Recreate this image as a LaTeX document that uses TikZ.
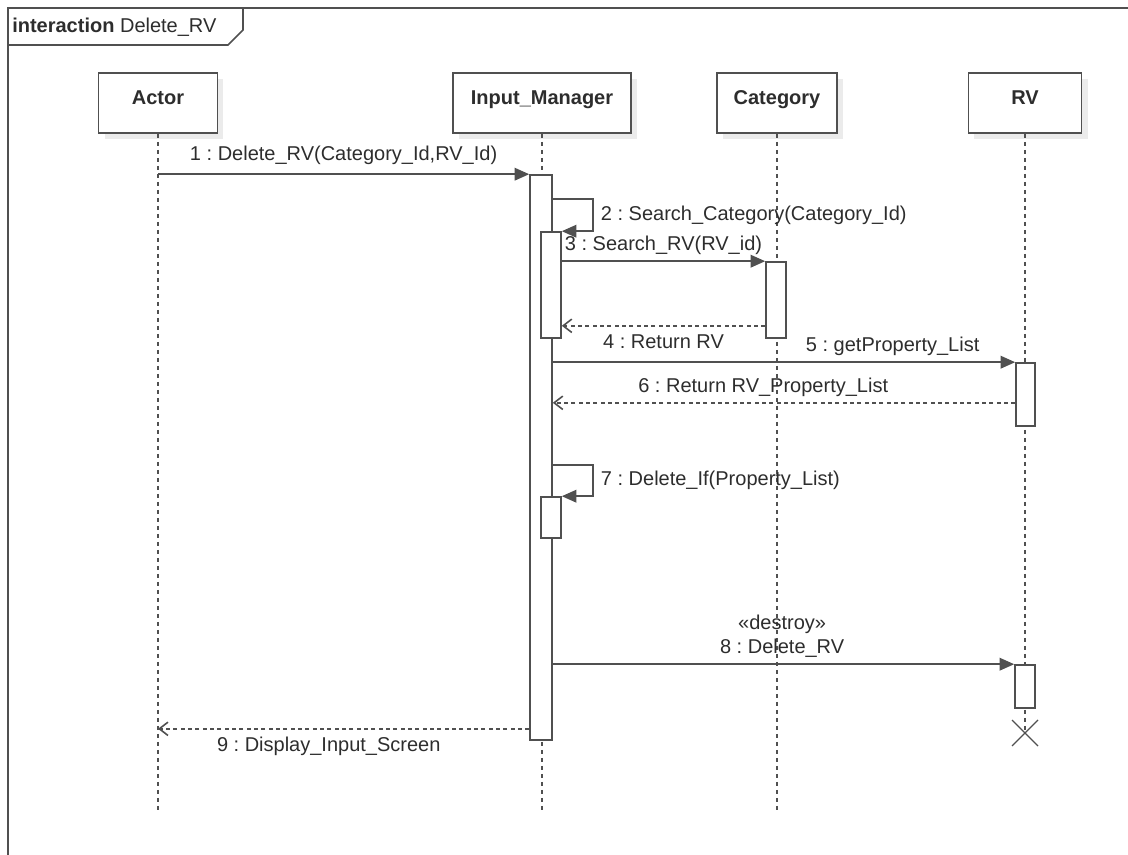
\documentclass[tikz,border=0pt]{standalone}
\usepackage{fontspec}
\setmainfont{Liberation Sans}
\frenchspacing
\usetikzlibrary{arrows.meta,positioning,fit,calc,shadows}
\definecolor{umlline}{RGB}{80,80,80}
\definecolor{umltext}{RGB}{45,45,45}

\begin{document}
\begin{tikzpicture}[x=0.75pt, y=-0.75pt,
    font=\fontsize{15}{18}\selectfont, text=umltext,
    head/.style={rectangle, draw=umlline, fill=white, line width=1.2pt,
                 minimum height=45pt, text height=11pt, text depth=9pt,
                 font=\fontsize{15}{18}\selectfont\bfseries,
                 drop shadow={shadow xshift=4.5pt, shadow yshift=-4.5pt, fill=black!8, opacity=1}},
    bar/.style={rectangle, draw=umlline, fill=white, line width=1.2pt, inner sep=0pt},
    life/.style={draw=umlline, line width=1pt, dash pattern=on 3pt off 3pt},
    msg/.style={draw=umlline, line width=1.2pt, -{Triangle[length=11pt, width=9.5pt]}},
    ret/.style={draw=umlline, line width=1.2pt, dash pattern=on 3pt off 2.5pt,
                -{Straight Barb[length=6.5pt, width=10pt]}}]
\useasboundingbox (0,0) rectangle (1128,855);

% frame
\draw[umlline, line width=1.2pt] (8,855) -- (8,8) -- (1128,8);
\draw[umlline, line width=1.2pt] (8,45) -- (228,45) -- (243,30) -- (243,8);
\node[anchor=west, inner sep=0pt] (title) at (12,27) {\textbf{interaction} Delete\_RV};

% lifeline heads
\node[head, minimum width=89pt] (actor) at (158,103) {Actor};
\node[head, minimum width=133.5pt] (im) at (542,103) {Input\_Manager};
\node[head, minimum width=90pt] (cat) at (777,103) {Category};
\node[head, minimum width=85pt] (rv) at (1025,103) {RV};

\coordinate (actorEnd) at (158,812);
\coordinate (imEnd) at (542,812);
\coordinate (catEnd) at (777,812);
\coordinate (rvX) at (1025,733);

\draw[life] (actor) -- (actorEnd);
\draw[life] (im) -- (imEnd);
\draw[life] (cat) -- (catEnd);
\draw[life] (rv) -- (rvX);

% activations
\node[bar, fit={(530,175) (552,740)}] (imA) {};
\node[bar, fit={(541,232) (561,338)}] (imB) {};
\node[bar, fit={(766,262) (786,338)}] (catA) {};
\node[bar, fit={(1016,363) (1035,426)}] (rvA) {};
\node[bar, fit={(541,497) (561,538)}] (imC) {};
\node[bar, fit={(1015,665) (1035,708)}] (rvB) {};

\draw[umlline, line width=0.9pt] (rvX) +(-13,-13) -- +(13,13) (rvX) +(-13,13) -- +(13,-13);

% messages
\draw[msg] (actor |- imA.north west) -- (imA.north west)
    node[midway, above=3pt] {1 : Delete\_RV(Category\_Id,RV\_Id)};

\coordinate (c2) at (593,199);
\draw[msg] (imA.east |- c2) -- (c2) |- (imB.north east)
    node[pos=0.25, right=2pt] {2 : Search\_Category(Category\_Id)};

\draw[msg] (imB.east |- catA.north west) -- (catA.north west)
    node[midway, above=1pt] {3 : Search\_RV(RV\_id)};

\draw[ret] ($(catA.south west)+(0,-13)$) -- ($(imB.south east)+(0,-13)$)
    node[midway, below=3pt] {4 : Return RV};

\draw[msg] (imA.east |- rvA.north west) -- (rvA.north west)
    node[pos=0.735, above=1pt] {5 : getProperty\_List};

\draw[ret] ($(rvA.south west)+(0,-24)$) -- (imA.east |- {$(rvA.south west)+(0,-24)$})
    node[pos=0.545, above=1pt] {6 : Return RV\_Property\_List};

\coordinate (c7) at (593,465);
\draw[msg] (imA.east |- c7) -- (c7) |- (imC.north east)
    node[pos=0.25, right=2pt] {7 : Delete\_If(Property\_List)};

\draw[msg] (imA.east |- rvB.north west) -- (rvB.north west)
    node[pos=0.497, above=1pt, align=center] {«destroy»\\8 : Delete\_RV};

\draw[ret] ($(imA.south west)+(0,-12)$) -- (actor |- {$(imA.south west)+(0,-12)$})
    node[pos=0.54, below=2pt] {9 : Display\_Input\_Screen};
\end{tikzpicture}
\end{document}
